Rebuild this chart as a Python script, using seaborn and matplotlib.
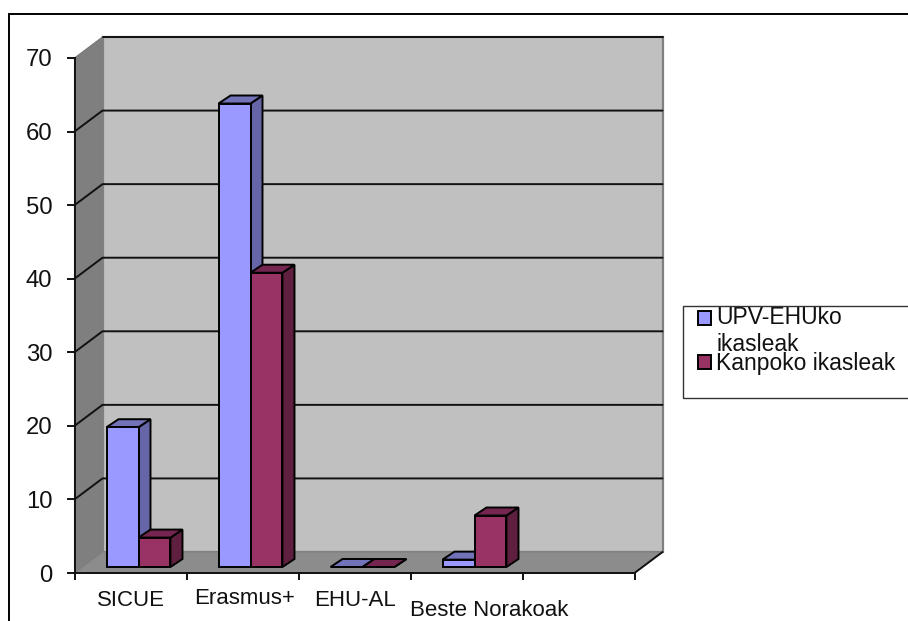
# plot.py
# Old Excel style 3D clustered bars, rebuilt on a seaborn barplot.
# The fake depth is drawn in pixels on top of the bars seaborn makes.

import matplotlib
matplotlib.use("Agg")
import matplotlib.pyplot as plt
import pandas as pd
import seaborn as sns
from matplotlib.patches import Polygon, Rectangle
from matplotlib.lines import Line2D
from matplotlib.transforms import Affine2D, IdentityTransform

categories = ["SICUE", "Erasmus+", "EHU-AL", "Beste Norakoak", ""]
series_names = ["UPV-EHUko\nikasleak", "Kanpoko ikasleak"]
upv_values = [19, 63, 0, 1, None]
kanpoko_values = [4, 40, 0, 7, None]
yticks = [0, 10, 20, 30, 40, 50, 60, 70]

front_colors = ["#9999FF", "#993366"]
side_colors = ["#6565A8", "#5F2040"]
top_colors = ["#7272B8", "#752650"]

W, H = 908, 621
WALL_DX, WALL_DY = 28, 21     # depth of the whole box, px
BAR_DX, BAR_DY = 8, 6         # gap in front of the bars, px
DEPTH_DX, DEPTH_DY = 12, 8    # depth of one bar, px
LW = 1.4

df = pd.DataFrame({
    "category": categories * 2,
    "series": [series_names[0]] * 5 + [series_names[1]] * 5,
    "value": upv_values + kanpoko_values,
})
df["value"] = df["value"].astype(float)

sns.set_theme(style="white")
plt.rcParams["font.family"] = ["Liberation Sans", "DejaVu Sans"]

fig = plt.figure(figsize=(W / 100, H / 100), dpi=100, facecolor="white")
ax = fig.add_axes([74.5 / W, (H - 573) / H, 560 / W, 515 / H])
ax.patch.set_visible(False)

sns.barplot(data=df, x="category", y="value", hue="series", order=categories,
            hue_order=series_names, palette=front_colors, width=0.571, gap=0,
            edgecolor="black", linewidth=LW, saturation=1, ax=ax)
ax.set_xlim(-0.5, 4.5)
ax.set_ylim(0, 70)
ax.set_xlabel("")
ax.set_ylabel("")


def px(x, y):
    return ax.transData.transform((x, y))


def face(points, color, z, edge="black", lw=LW):
    ax.add_patch(Polygon(points, closed=True, facecolor=color, edgecolor=edge, linewidth=lw,
                         transform=IdentityTransform(), clip_on=False, zorder=z))


# walls and floor
x0, y0 = px(-0.5, 0)
x1, y1 = px(4.5, 70)
d = (WALL_DX, WALL_DY)
face([(x0, y0), (x0, y1), (x0 + d[0], y1 + d[1]), (x0 + d[0], y0 + d[1])], "#7F7F7F", 0.5, "#777777", 0.8)
face([(x0 + d[0], y0 + d[1]), (x0 + d[0], y1 + d[1]), (x1 + d[0], y1 + d[1]), (x1 + d[0], y0 + d[1])],
     "#C0C0C0", 0.6, "#808080", 1.6)
face([(x0, y0), (x1, y0), (x1 + d[0], y0 + d[1]), (x0 + d[0], y0 + d[1])], "#8C8C8C", 0.7, "#808080", 0.8)

# grid lines run over the side wall and the back wall, the top one only over the back
for v in yticks[1:]:
    xa, ya = px(-0.5, v)
    if v == yticks[-1]:
        xs, ys = [xa + d[0], x1 + d[0]], [ya + d[1], ya + d[1]]
    else:
        xs, ys = [xa, xa + d[0], x1 + d[0]], [ya, ya + d[1], ya + d[1]]
    ax.add_line(Line2D(xs, ys, color="#111111", linewidth=LW,
                       transform=IdentityTransform(), clip_on=False, zorder=1))

# the right end of the floor
ax.add_line(Line2D([x1, x1 + d[0]], [y0, y0 + d[1]], color="#111111", linewidth=LW,
                   transform=IdentityTransform(), clip_on=False, zorder=1))

# depth of each bar
bars = [p for p in ax.patches if isinstance(p, Rectangle) and p.get_width() > 0 and p.get_height() == p.get_height()]
bars.sort(key=lambda p: p.get_x())
shift = Affine2D().translate(BAR_DX, BAR_DY)
for i, bar in enumerate(bars):
    z = 3 + i * 0.01
    which = 0 if bar.get_facecolor()[2] > 0.7 else 1
    left, base = px(bar.get_x(), 0)
    right, top = px(bar.get_x() + bar.get_width(), bar.get_height())
    left, right = left + BAR_DX, right + BAR_DX
    base, top = base + BAR_DY, top + BAR_DY
    face([(right, base), (right + DEPTH_DX, base + DEPTH_DY), (right + DEPTH_DX, top + DEPTH_DY), (right, top)],
         side_colors[which], z)
    face([(left, top), (right, top), (right + DEPTH_DX, top + DEPTH_DY), (left + DEPTH_DX, top + DEPTH_DY)],
         top_colors[which], z)
    bar.set_transform(ax.transData + shift)
    bar.set_clip_on(False)
    bar.set_zorder(z + 0.001)

# axes
sns.despine(ax=ax)
for s in ["left", "bottom"]:
    ax.spines[s].set_linewidth(LW)
    ax.spines[s].set_color("#111111")
    ax.spines[s].set_zorder(2)
ax.set_yticks(yticks)
ax.set_xticks([i - 0.5 for i in range(len(categories) + 1)])
ax.set_xticklabels([])
ax.tick_params(axis="y", left=True, length=6, width=LW, color="#111111", labelsize=17.2, pad=10, labelcolor="#111111")
ax.tick_params(axis="x", bottom=True, length=5, width=LW, color="#111111")

# category labels sit by hand in the original, the last one lower and further right
label_dx = [0, 2, 1, 23]
label_dy = [-27, -26, -27, -37]
for i, name in enumerate(categories[:4]):
    ax.annotate(name, xy=(i, 0), xytext=(label_dx[i] * 0.72, label_dy[i] * 0.72), textcoords="offset points",
                ha="center", va="center", fontsize=16, color="#111111", annotation_clip=False)

# legend, the box runs off the right side of the picture
fig.add_artist(Rectangle((683, H - 398), 300, 92, transform=IdentityTransform(), fill=False,
                         edgecolor="#333333", linewidth=1.0))
handles, labels = ax.get_legend_handles_labels()
leg = ax.legend(handles, labels, loc="upper left", bbox_to_anchor=(698 / W, (H - 306) / H),
                bbox_transform=fig.transFigure, frameon=False, fontsize=16.5, handlelength=0.58, handleheight=0.58,
                handletextpad=0.22, labelspacing=-0.14, borderpad=0, borderaxespad=0, labelcolor="#111111")
# the swatch of the two line label stays beside its first line
first = leg.legend_handles[0]
first.set_y(first.get_y() + 10)

# outer frame of the chart, cut by the picture on the right and at the bottom
fig.add_artist(Rectangle((9, -20), 950, H - 14 + 20, transform=IdentityTransform(), fill=False,
                         edgecolor="black", linewidth=1.4))

fig.savefig("out.png", dpi=100)
